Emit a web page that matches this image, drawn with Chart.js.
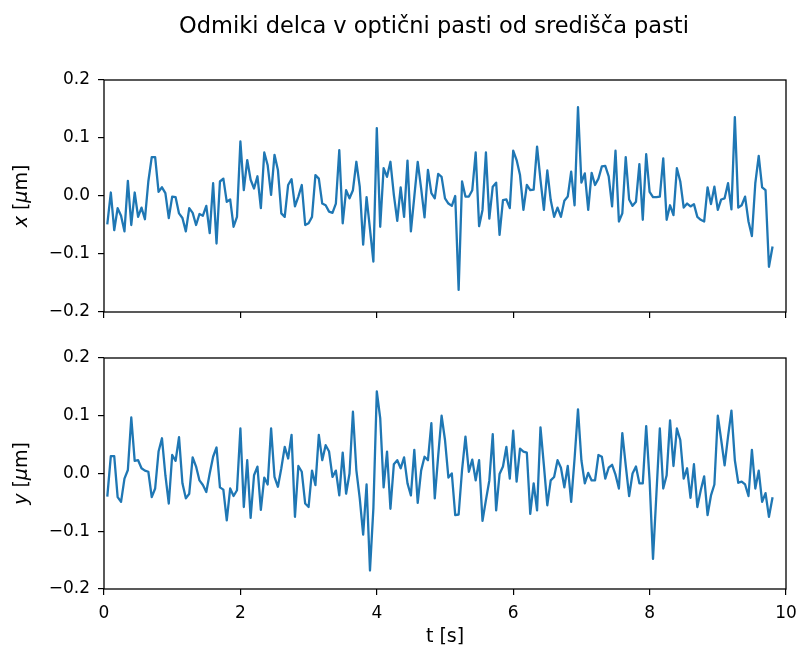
<!DOCTYPE html>
<html>
<head>
<meta charset="utf-8">
<script src="https://cdn.jsdelivr.net/npm/chart.js@4.4.1/dist/chart.umd.min.js"></script>
<style>
  body { margin: 0; background: #fff; }
  #wrap { position: relative; width: 798px; height: 648px; }
  canvas { position: absolute; left: 0; }
  #top { top: 0; }
  #bot { top: 340px; }
</style>
</head>
<body>
<div id="wrap">
  <canvas id="top" width="798" height="340"></canvas>
  <canvas id="bot" width="798" height="308"></canvas>
</div>
<script>
const figTitle = 'Odmiki delca v optični pasti od središča pasti';
const xLabel = 't [s]';
// sampling step of the record (s), first sample at one step
const tStep = 0.05;
const xTicks = [0, 2, 4, 6, 8, 10];
const yTicks = [-0.2, -0.1, 0, 0.1, 0.2];

// x displacement [um]
const dx = [
  -0.047, 0.006, -0.059, -0.021, -0.034, -0.061, 0.026, -0.050, 0.006, -0.036,
  -0.020, -0.040, 0.025, 0.067, 0.067, 0.007, 0.015, 0.005, -0.038, -0.001,
  -0.002, -0.030, -0.038, -0.061, -0.021, -0.029, -0.050, -0.031, -0.034, -0.017,
  -0.064, 0.022, -0.082, 0.025, 0.030, -0.010, -0.006, -0.053, -0.036, 0.094,
  0.010, 0.062, 0.028, 0.013, 0.034, -0.021, 0.075, 0.053, 0.002, 0.071,
  0.045, -0.030, -0.036, 0.019, 0.029, -0.018, -0.001, 0.019, -0.050, -0.047,
  -0.036, 0.036, 0.030, -0.013, -0.016, -0.027, -0.029, -0.013, 0.079, -0.047,
  0.010, -0.004, 0.010, 0.059, 0.016, -0.084, -0.002, -0.057, -0.113, 0.117,
  -0.053, 0.048, 0.033, 0.059, 0.002, -0.043, 0.015, -0.036, 0.061, -0.061,
  -0.001, 0.059, 0.013, -0.037, 0.045, 0.005, -0.004, 0.038, 0.033, -0.004,
  -0.013, -0.017, 0.000, -0.162, 0.025, -0.001, -0.001, 0.010, 0.075, -0.052,
  -0.024, 0.075, -0.039, 0.016, 0.023, -0.067, -0.007, -0.006, -0.021, 0.078,
  0.062, 0.036, -0.024, 0.019, 0.010, 0.011, 0.085, 0.028, -0.024, 0.044,
  -0.007, -0.036, -0.020, -0.036, -0.008, -0.001, 0.042, -0.016, 0.153, 0.023,
  0.039, -0.024, 0.040, 0.019, 0.030, 0.051, 0.052, 0.034, -0.018, 0.078,
  -0.044, -0.030, 0.067, -0.006, -0.017, -0.010, 0.055, -0.041, 0.072, 0.007,
  -0.002, -0.002, -0.001, 0.065, -0.041, -0.016, -0.033, 0.048, 0.025, -0.020,
  -0.013, -0.018, -0.014, -0.036, -0.041, -0.044, 0.015, -0.014, 0.016, -0.024,
  -0.006, -0.004, 0.022, -0.023, 0.136, -0.020, -0.016, -0.001, -0.044, -0.069,
  0.022, 0.069, 0.015, 0.010, -0.122, -0.089
];

// y displacement [um]
const dy = [
  -0.038, 0.030, 0.030, -0.041, -0.049, -0.009, 0.006, 0.097, 0.022, 0.023,
  0.009, 0.005, 0.003, -0.041, -0.026, 0.038, 0.061, -0.003, -0.052, 0.032,
  0.022, 0.063, -0.017, -0.043, -0.035, 0.028, 0.012, -0.012, -0.020, -0.032,
  0.000, 0.029, 0.045, -0.024, -0.028, -0.081, -0.026, -0.039, -0.029, 0.078,
  -0.058, 0.023, -0.077, -0.003, 0.012, -0.063, -0.007, -0.019, 0.078, -0.006,
  -0.023, 0.009, 0.046, 0.026, 0.067, -0.075, 0.013, 0.003, -0.052, -0.058,
  0.005, -0.020, 0.067, 0.023, 0.049, 0.038, -0.006, 0.005, -0.038, 0.036,
  -0.035, 0.000, 0.107, 0.006, -0.043, -0.106, -0.019, -0.168, -0.060, 0.142,
  0.096, -0.024, 0.038, -0.061, 0.016, 0.023, 0.009, 0.028, -0.017, -0.038,
  0.041, -0.051, 0.005, 0.029, 0.023, 0.087, -0.043, 0.030, 0.100, 0.058,
  -0.007, 0.000, -0.072, -0.071, 0.006, 0.064, 0.003, 0.024, -0.012, 0.023,
  -0.082, -0.046, -0.012, 0.068, -0.064, -0.001, 0.012, 0.046, -0.009, 0.074,
  -0.014, 0.043, 0.038, 0.036, -0.070, -0.017, -0.064, 0.080, 0.014, -0.055,
  -0.012, -0.006, 0.023, 0.010, -0.024, 0.013, -0.049, 0.026, 0.111, 0.023,
  -0.017, 0.001, -0.012, -0.012, 0.032, 0.029, -0.009, 0.010, 0.015, -0.002,
  -0.026, 0.070, 0.014, -0.039, 0.000, 0.012, -0.017, -0.017, 0.082, -0.012,
  -0.148, -0.035, 0.078, -0.026, -0.003, 0.092, 0.013, 0.078, 0.058, -0.009,
  0.009, -0.042, 0.016, -0.058, -0.029, -0.005, -0.072, -0.038, -0.019, 0.100,
  0.058, 0.014, 0.064, 0.109, 0.023, -0.016, -0.014, -0.019, -0.039, 0.041,
  -0.026, 0.005, -0.049, -0.034, -0.075, -0.043
];

const times = dx.map((_, i) => +((i + 1) * tStep).toFixed(2));

Chart.defaults.font.family = "'DejaVu Sans', sans-serif";
Chart.defaults.font.size = 17;
Chart.defaults.color = '#000';

const fmtY = v => {
  const s = Math.abs(v) < 1e-9 ? '0.0' : v.toFixed(1);
  return s.replace('-', '\u2212');
};

// frame on all four sides, mathtext-like y label, optional figure title
const frame = {
  id: 'frame',
  afterDraw(chart, args, opts) {
    const { ctx, chartArea: a } = chart;
    ctx.save();
    ctx.strokeStyle = '#000';
    ctx.lineWidth = 1.3;
    ctx.strokeRect(a.left, a.top, a.right - a.left, a.bottom - a.top);

    // y label, e.g. "x [μm]" with x and μ in italic
    const parts = opts.label;
    const fontN = "19px 'DejaVu Sans'";
    const fontI = "italic 19px 'DejaVu Sans'";
    let w = 0;
    parts.forEach(p => { ctx.font = p.i ? fontI : fontN; w += ctx.measureText(p.t).width; });
    ctx.translate(opts.labelX, (a.top + a.bottom) / 2);
    ctx.rotate(-Math.PI / 2);
    ctx.fillStyle = '#000';
    ctx.textBaseline = 'middle';
    ctx.textAlign = 'left';
    let x = -w / 2;
    parts.forEach(p => {
      ctx.font = p.i ? fontI : fontN;
      ctx.fillText(p.t, x, 0);
      x += ctx.measureText(p.t).width;
    });
    ctx.restore();

    if (opts.title) {
      ctx.save();
      ctx.font = "22.5px 'DejaVu Sans'";
      ctx.fillStyle = '#000';
      ctx.textAlign = 'center';
      ctx.textBaseline = 'middle';
      ctx.fillText(opts.title, 434, 27);
      ctx.restore();
    }
  }
};

function makeChart(id, values, label, showX, padTop, xHeight, title) {
  return new Chart(document.getElementById(id), {
    type: 'line',
    data: {
      datasets: [{
        data: values.map((v, i) => ({ x: times[i], y: v })),
        borderColor: '#1f77b4',
        borderWidth: 2.3,
        borderJoinStyle: 'round',
        borderCapStyle: 'square',
        pointRadius: 0,
        tension: 0,
        fill: false
      }]
    },
    options: {
      responsive: false,
      animation: false,
      events: [],
      layout: { padding: { left: 0, right: 12, top: padTop, bottom: 0 } },
      plugins: {
        legend: { display: false },
        tooltip: { enabled: false },
        frame: { label: label, labelX: 22, title: title }
      },
      scales: {
        x: {
          type: 'linear',
          min: 0,
          max: 10,
          afterBuildTicks: s => { s.ticks = xTicks.map(v => ({ value: v })); },
          afterFit: s => { s.height = xHeight; s.paddingLeft = 0; s.paddingRight = 0; },
          border: { display: false },
          grid: { drawOnChartArea: false, drawTicks: true, tickLength: 6, color: '#000', lineWidth: 1.2 },
          ticks: { display: showX, padding: 8, maxRotation: 0, callback: v => String(v) },
          title: { display: showX, text: xLabel, font: { size: 19 }, padding: { top: 0, bottom: 0 } }
        },
        y: {
          min: -0.2,
          max: 0.2,
          afterBuildTicks: s => { s.ticks = yTicks.map(v => ({ value: v })); },
          afterFit: s => { s.width = 104; s.paddingTop = 0; s.paddingBottom = 0; },
          border: { display: false },
          grid: { drawOnChartArea: false, drawTicks: true, tickLength: 6, color: '#000', lineWidth: 1.2 },
          ticks: { padding: 8, callback: fmtY }
        }
      }
    },
    plugins: [frame]
  });
}

makeChart('top', dx, [{ t: 'x', i: true }, { t: ' [', i: false }, { t: 'μ', i: true }, { t: 'm]', i: false }],
  false, 80, 28, figTitle);
makeChart('bot', dy, [{ t: 'y', i: true }, { t: ' [', i: false }, { t: 'μ', i: true }, { t: 'm]', i: false }],
  true, 18, 59, null);
</script>
</body>
</html>
